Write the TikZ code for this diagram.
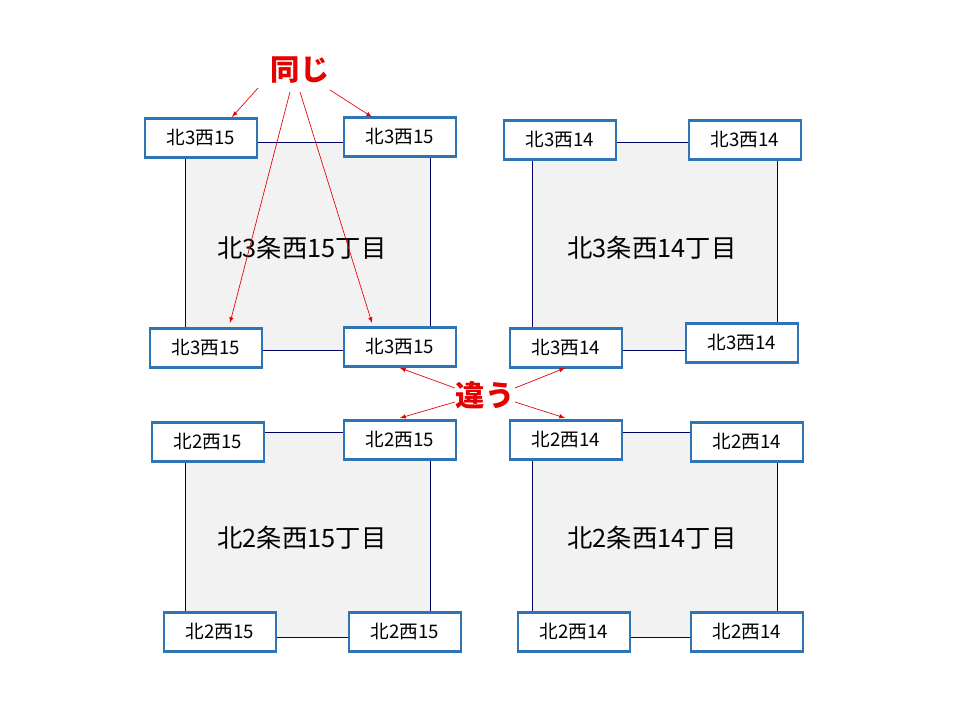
\documentclass[tikz,border=0pt]{standalone}
\usepackage{fontspec}
\setmainfont{Noto Sans CJK JP}
\begin{document}
\begin{tikzpicture}[x=0.75pt,y=-0.75pt,
  blk/.style={draw=blue!40!black,fill=gray!10,line width=0.5pt},
  lbl/.style={draw={rgb,255:red,46;green,117;blue,182},fill=white,line width=2pt,minimum width=84pt,minimum height=29pt,inner sep=1pt,font=\fontsize{14}{16}\selectfont},
  big/.style={font=\fontsize{19}{22}\selectfont},
  red/.style={text={rgb,255:red,230;green,0;blue,0},font=\fontsize{22}{26}\selectfont\bfseries},
  arr/.style={draw={rgb,255:red,230;green,0;blue,0},line width=0.5pt,-latex}]
\useasboundingbox (0,0) rectangle (960,720);
\draw[blk] (185,142) rectangle (430,350);
\draw[blk] (532,142) rectangle (777,350);
\draw[blk] (185,432) rectangle (430,637);
\draw[blk] (532,432) rectangle (777,637);
\node[big] (t1) at (302,248) {北3条西15丁目};
\node[big] (t2) at (652,248) {北3条西14丁目};
\node[big] (t3) at (302,538) {北2条西15丁目};
\node[big] (t4) at (652,538) {北2条西14丁目};
\node[lbl] (a1) at (201,138) {北3西15};
\node[lbl] (a2) at (400,137) {北3西15};
\node[lbl] (a3) at (206,348) {北3西15};
\node[lbl] (a4) at (400,347) {北3西15};
\node[lbl] (b1) at (560,140) {北3西14};
\node[lbl] (b2) at (745,140) {北3西14};
\node[lbl] (b3) at (566,348) {北3西14};
\node[lbl] (b4) at (742,343) {北3西14};
\node[lbl] (c1) at (208,442) {北2西15};
\node[lbl] (c2) at (400,440) {北2西15};
\node[lbl] (c3) at (220,632) {北2西15};
\node[lbl] (c4) at (405,632) {北2西15};
\node[lbl] (d1) at (566,440) {北2西14};
\node[lbl] (d2) at (747,442) {北2西14};
\node[lbl] (d3) at (574,632) {北2西14};
\node[lbl] (d4) at (747,632) {北2西14};
\node[red] (s) at (300,70) {同じ};
\node[red] (w) at (485,395) {違う};
\coordinate (sa) at (258,88); \coordinate (sb) at (330,90);
\coordinate (sc) at (290,92); \coordinate (sd) at (300,92);
\draw[arr] (sa) -- (232,117);
\draw[arr] (sb) -- (372,117);
\draw[arr] (sc) -- (230,323);
\draw[arr] (sd) -- (372,323);
\coordinate (wa) at (455,388); \coordinate (wb) at (515,388);
\coordinate (wc) at (455,402); \coordinate (wd) at (515,402);
\draw[arr] (wa) -- (400,368);
\draw[arr] (wb) -- (565,368);
\draw[arr] (wc) -- (400,418);
\draw[arr] (wd) -- (565,418);
\end{tikzpicture}
\end{document}
